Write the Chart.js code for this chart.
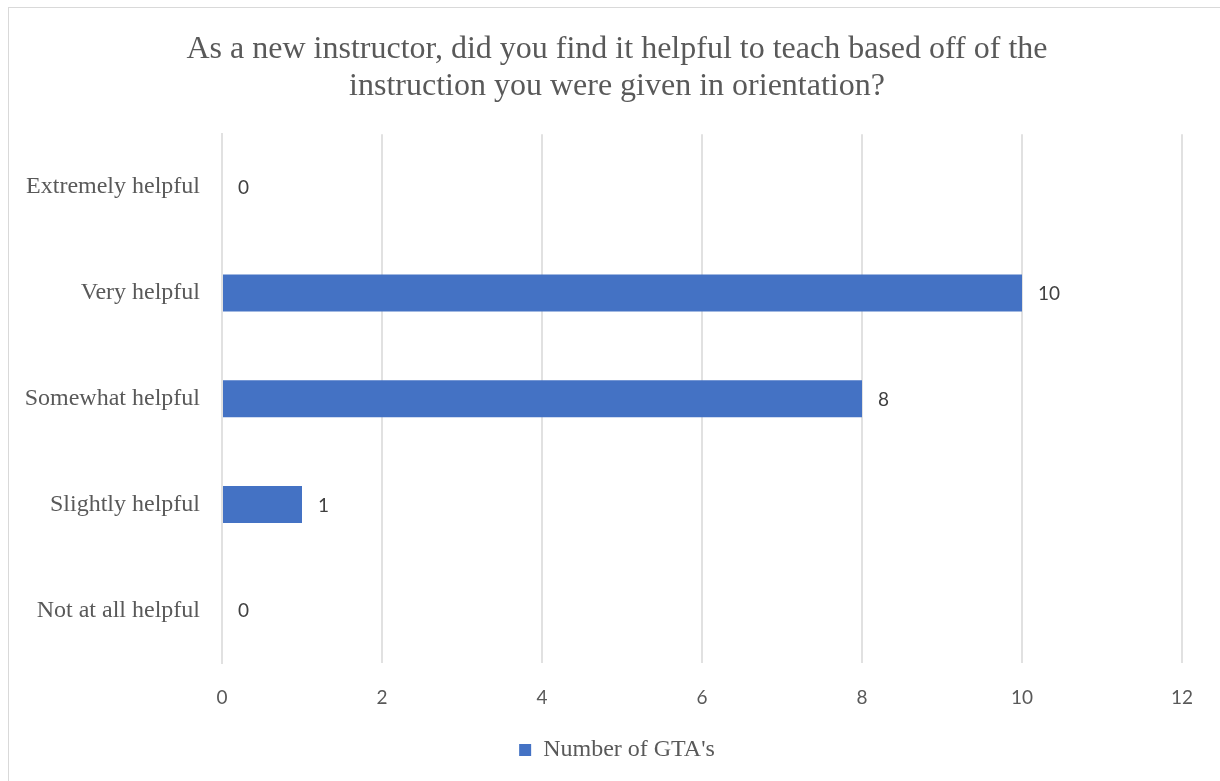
<!DOCTYPE html>
<html>
<head>
<meta charset="utf-8">
<script src="https://cdn.jsdelivr.net/npm/chart.js@4.4.0/dist/chart.umd.min.js"></script>
<style>
  html, body { margin: 0; padding: 0; background: #ffffff; }
  #wrap { position: relative; width: 1220px; height: 781px; overflow: hidden; }
  #frame { position: absolute; left: 8px; top: 7px; width: 1240px; height: 800px; border: 1px solid #d9d9d9; box-sizing: border-box; pointer-events: none; }
  canvas { position: absolute; left: 0; top: 0; }
</style>
</head>
<body>
<div id="wrap">
  <canvas id="c" width="1220" height="781"></canvas>
  <div id="frame"></div>
</div>
<script>
const categories = ["Extremely helpful", "Very helpful", "Somewhat helpful", "Slightly helpful", "Not at all helpful"];
const gtaCounts = [0, 10, 8, 1, 0];
const seriesName = "Number of GTA's";
const titleLines = ["As a new instructor, did you find it helpful to teach based off of the", "instruction you were given in orientation?"];
const xMin = 0, xMax = 12, xStep = 2;

const valueLabels = {
  id: 'valueLabels',
  afterDatasetsDraw(chart) {
    const ctx = chart.ctx;
    const meta = chart.getDatasetMeta(0);
    ctx.save();
    ctx.font = '19px Lato';
    ctx.fillStyle = '#404040';
    ctx.textAlign = 'left';
    ctx.textBaseline = 'middle';
    meta.data.forEach((bar, i) => {
      ctx.fillText(String(chart.data.datasets[0].data[i]), bar.x + 16, bar.y + 1);
    });
    ctx.restore();
  }
};

new Chart(document.getElementById('c'), {
  type: 'bar',
  data: {
    labels: categories,
    datasets: [{
      label: seriesName,
      data: gtaCounts,
      backgroundColor: '#4472C4',
      borderWidth: 0,
      barPercentage: 0.35,
      categoryPercentage: 1.0,
      xAxisID: 'x',
      yAxisID: 'y'
    }]
  },
  options: {
    indexAxis: 'y',
    responsive: false,
    animation: false,
    layout: { padding: { left: 14, right: 0, top: 0, bottom: 9 } },
    scales: {
      x: {
        min: xMin, max: xMax,
        ticks: { stepSize: xStep, color: '#595959', font: { family: 'Lato', size: 19 }, padding: 23 },
        grid: { color: '#e1e1e1', lineWidth: 2, drawTicks: false },
        border: { display: false }
      },
      y: {
        afterFit(scale) { scale.width = 208; },
        ticks: { color: '#595959', font: { family: 'Liberation Serif', size: 24 }, padding: 22 },
        grid: { display: false, drawTicks: false },
        border: { display: true, color: '#e1e1e1', width: 2 }
      },
      rightGap: {
        type: 'linear',
        axis: 'y',
        position: 'right',
        display: true,
        afterFit(scale) { scale.width = 38; },
        ticks: { display: false },
        grid: { display: false, drawTicks: false },
        border: { display: false }
      }
    },
    plugins: {
      title: {
        display: true,
        text: titleLines,
        color: '#595959',
        font: { family: 'Liberation Serif', size: 32, weight: 'normal', lineHeight: 1.16 },
        padding: { top: 31, bottom: 29 }
      },
      legend: {
        position: 'bottom',
        labels: {
          color: '#595959',
          font: { family: 'Liberation Serif', size: 24 },
          boxWidth: 12, boxHeight: 12, padding: 6
        }
      },
      tooltip: { enabled: false }
    }
  },
  plugins: [valueLabels]
});
</script>
</body>
</html>
